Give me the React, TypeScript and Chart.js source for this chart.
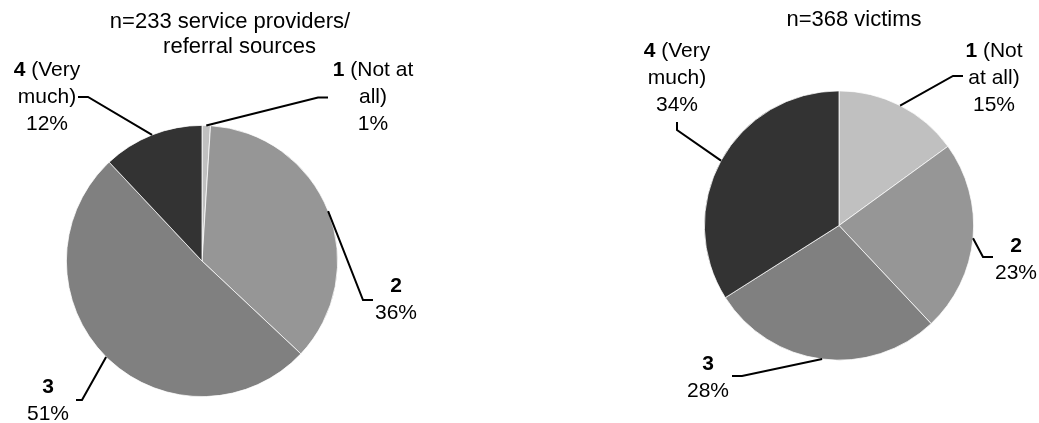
import React, { useEffect, useRef } from 'react';
import { Chart, registerables } from 'chart.js';

Chart.register(...registerables);

// Answer scale shared by both pies
const CATEGORY_CODES = ['1', '2', '3', '4'];
const CATEGORY_NAMES = ['(Not at all)', '', '', '(Very much)'];

// Percent of respondents per answer
const PROVIDER_SHARES = [1, 36, 51, 12];
const VICTIM_SHARES = [15, 23, 28, 34];

const PROVIDER_TITLE = ['n=233 service providers/', 'referral sources'];
const VICTIM_TITLE = ['n=368 victims'];

const SLICE_COLORS = ['#c0c0c0', '#969696', '#808080', '#333333'];

const FONT_FAMILY = '"Liberation Sans", Arial, Helvetica, sans-serif';
const LABEL_SIZE = 21;
const LABEL_LINE = 27;
const TITLE_SIZE = 22;
const TITLE_LINE = 25;
const PAGE_W = 1039;
const PAGE_H = 423;

type Callout = {
  elbow: [number, number]; // leader bend, relative to pie centre
  end: [number, number]; // leader end, relative to pie centre
  label: [number, number]; // label centre x / first baseline, relative to pie centre
  wrap: number; // max width of a name line
};

type PieLayout = {
  padding: { left: number; right: number; top: number; bottom: number };
  title: { dx: number; dy: number }[];
  callouts: Callout[];
};

const PROVIDER_LAYOUT: PieLayout = {
  padding: { left: 66, right: 701, top: 125, bottom: 26 },
  title: [
    { dx: 28, dy: -233 },
    { dx: 37.5, dy: -208 },
  ],
  callouts: [
    { elbow: [116, -163.5], end: [126, -163.5], label: [171, -185], wrap: 85 },
    { elbow: [161, 39], end: [171, 39], label: [194, 31], wrap: 60 },
    { elbow: [-120, 139], end: [-126, 139], label: [-154, 132], wrap: 60 },
    { elbow: [-114, -164], end: [-124, -164], label: [-155, -185], wrap: 75 },
  ],
};

const VICTIM_LAYOUT: PieLayout = {
  padding: { left: 704, right: 65, top: 90.5, bottom: 62.5 },
  title: [{ dx: 15, dy: -199.5 }],
  callouts: [
    { elbow: [114, -149.5], end: [124, -149.5], label: [155, -168.5], wrap: 68 },
    { elbow: [144, 31.5], end: [154, 31.5], label: [177, 26.5], wrap: 60 },
    { elbow: [-97, 150.5], end: [-107, 150.5], label: [-131, 144.5], wrap: 60 },
    { elbow: [-162, -95.5], end: [-162, -103.5], label: [-162, -168.5], wrap: 75 },
  ],
};

type Word = { text: string; bold: boolean };

const fontFor = (bold: boolean, size: number) =>
  `${bold ? 'bold ' : ''}${size}px ${FONT_FAMILY}`;

function measureLine(ctx: CanvasRenderingContext2D, words: Word[], size: number) {
  let w = 0;
  words.forEach((word, i) => {
    ctx.font = fontFor(word.bold, size);
    w += ctx.measureText(word.text).width;
    if (i < words.length - 1) {
      ctx.font = fontFor(false, size);
      w += ctx.measureText(' ').width;
    }
  });
  return w;
}

function drawLine(ctx: CanvasRenderingContext2D, words: Word[], cx: number, baseline: number, size: number) {
  let x = cx - measureLine(ctx, words, size) / 2;
  words.forEach((word, i) => {
    ctx.font = fontFor(word.bold, size);
    ctx.fillText(word.text, x, baseline);
    x += ctx.measureText(word.text).width;
    if (i < words.length - 1) {
      ctx.font = fontFor(false, size);
      x += ctx.measureText(' ').width;
    }
  });
}

// Greedy word wrap of "code name", code in bold
function wrapName(ctx: CanvasRenderingContext2D, code: string, name: string, maxW: number) {
  const words: Word[] = [{ text: code, bold: true }];
  name
    .split(' ')
    .filter((t) => t.length)
    .forEach((t) => words.push({ text: t, bold: false }));
  const lines: Word[][] = [];
  let cur: Word[] = [];
  words.forEach((w) => {
    const trial = [...cur, w];
    if (cur.length && measureLine(ctx, trial, LABEL_SIZE) > maxW) {
      lines.push(cur);
      cur = [w];
    } else {
      cur = trial;
    }
  });
  if (cur.length) lines.push(cur);
  return lines;
}

function calloutPlugin(layout: PieLayout, titleLines: string[]) {
  return {
    id: 'pieCallouts',
    afterDraw(chart: Chart) {
      const ctx = chart.ctx;
      const meta = chart.getDatasetMeta(0);
      const values = chart.data.datasets[0].data as number[];
      ctx.save();
      ctx.fillStyle = '#000000';
      ctx.strokeStyle = '#000000';
      ctx.lineWidth = 2;
      ctx.textAlign = 'left';
      ctx.textBaseline = 'alphabetic';
      let cx0 = 0;
      let cy0 = 0;
      meta.data.forEach((el: any, i: number) => {
        const { x, y, startAngle, endAngle, outerRadius } = el.getProps(
          ['x', 'y', 'startAngle', 'endAngle', 'outerRadius'],
          true
        );
        cx0 = x;
        cy0 = y;
        const c = layout.callouts[i];
        const mid = (startAngle + endAngle) / 2;
        const ax = x + Math.cos(mid) * outerRadius;
        const ay = y + Math.sin(mid) * outerRadius;
        ctx.beginPath();
        ctx.moveTo(ax, ay);
        ctx.lineTo(x + c.elbow[0], y + c.elbow[1]);
        ctx.lineTo(x + c.end[0], y + c.end[1]);
        ctx.stroke();

        const lines = wrapName(ctx, CATEGORY_CODES[i], CATEGORY_NAMES[i], c.wrap);
        lines.push([{ text: `${values[i]}%`, bold: false }]);
        lines.forEach((line, k) => {
          drawLine(ctx, line, x + c.label[0], y + c.label[1] + k * LABEL_LINE, LABEL_SIZE);
        });
      });
      titleLines.forEach((t, k) => {
        const pos = layout.title[k];
        drawLine(ctx, [{ text: t, bold: false }], cx0 + pos.dx, cy0 + pos.dy, TITLE_SIZE);
      });
      ctx.restore();
    },
  };
}

function PieCanvas({ values, layout, title }: { values: number[]; layout: PieLayout; title: string[] }) {
  const ref = useRef<HTMLCanvasElement | null>(null);
  useEffect(() => {
    if (!ref.current) return;
    const chart = new Chart(ref.current, {
      type: 'pie',
      data: {
        labels: CATEGORY_CODES.map((c, i) => `${c} ${CATEGORY_NAMES[i]}`.trim()),
        datasets: [
          {
            data: values,
            backgroundColor: SLICE_COLORS,
            borderColor: '#ffffff',
            borderWidth: 0.75,
          },
        ],
      },
      options: {
        responsive: false,
        animation: false,
        events: [],
        layout: { padding: layout.padding },
        plugins: {
          legend: { display: false },
          tooltip: { enabled: false },
          title: { display: false },
        },
      },
      plugins: [calloutPlugin(layout, title)],
    });
    return () => chart.destroy();
  }, [values, layout, title]);
  return (
    <canvas
      ref={ref}
      width={PAGE_W}
      height={PAGE_H}
      style={{ position: 'absolute', left: 0, top: 0, width: PAGE_W, height: PAGE_H }}
    />
  );
}

export default function App() {
  useEffect(() => {
    document.body.style.margin = '0';
    document.body.style.background = '#ffffff';
  }, []);
  return (
    <div style={{ position: 'relative', width: PAGE_W, height: PAGE_H, background: '#ffffff' }}>
      <PieCanvas values={PROVIDER_SHARES} layout={PROVIDER_LAYOUT} title={PROVIDER_TITLE} />
      <PieCanvas values={VICTIM_SHARES} layout={VICTIM_LAYOUT} title={VICTIM_TITLE} />
    </div>
  );
}
